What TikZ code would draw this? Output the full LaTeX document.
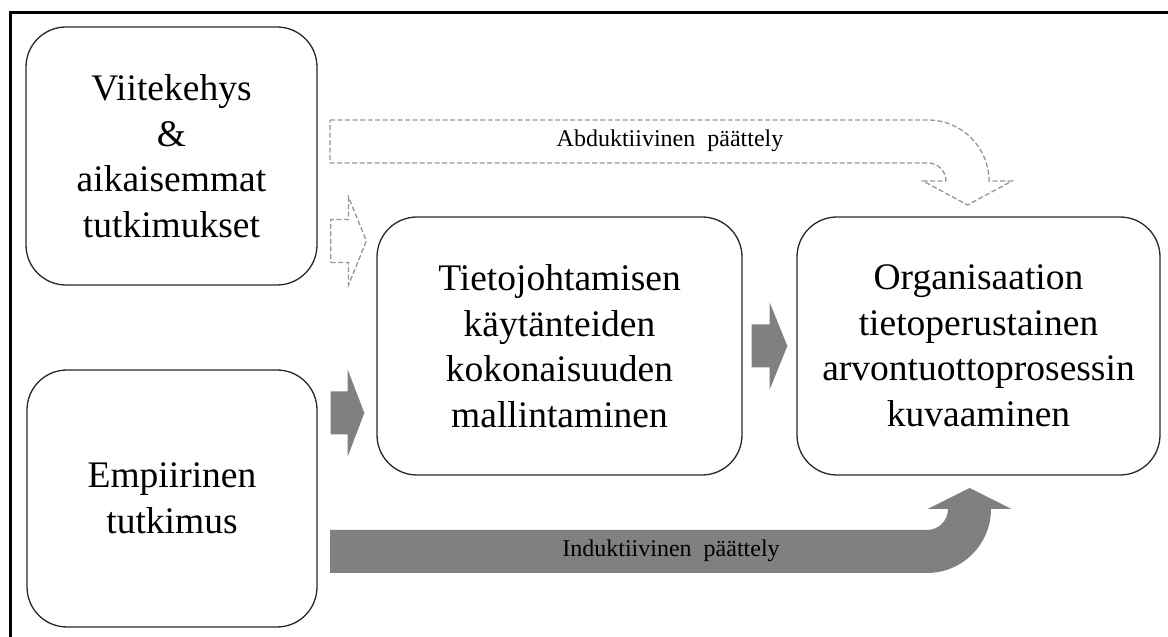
\documentclass[tikz,border=0pt]{standalone}
\usepackage{fontspec}
\setmainfont{Liberation Serif}
\usetikzlibrary{calc}
\definecolor{arrgray}{RGB}{128,128,128}
\definecolor{dashgray}{RGB}{150,150,150}
\definecolor{boxline}{RGB}{40,40,40}
\newcommand\blockarr[3]{%
  \path[#1] let \p1=#2, \p2=#3, \n1={(\x2-\x1)/2} in
    (\x1,\y1-21.5pt) -- (\x1+\n1,\y1-21.5pt) -- (\x1+\n1,\y1-44pt) -- (\x2,\y1)
    -- (\x1+\n1,\y1+44pt) -- (\x1+\n1,\y1+21.5pt) -- (\x1,\y1+21.5pt) -- cycle;}
\tikzset{
  mainbox/.style={draw=boxline, line width=1.3pt, rounded corners=40pt, fill=white,
    align=center, inner sep=0pt,
    font=\fontsize{37.5}{45.5}\selectfont},
  solidarrow/.style={fill=arrgray, draw=none},
  dasharrow/.style={draw=dashgray, line width=1.3pt, dash pattern=on 5pt off 2.5pt, fill=none},
  bandlabel/.style={font=\fontsize{24}{27}\selectfont, inner sep=0pt},
}
\begin{document}
\begin{tikzpicture}[x=1pt,y=1pt]
\useasboundingbox (0,0) rectangle (1168,637);
% frame
\draw[line width=3pt, black] (10,0) -- (10,624) -- (1168,624);
% boxes
\node[mainbox, minimum width=291pt, minimum height=258pt] (b1) at (171.5,481)
  {Viitekehys\\\&\\aikaisemmat\\tutkimukset};
\node[mainbox, minimum width=290pt, minimum height=257pt] (b2) at (172,138.5)
  {Empiirinen\\tutkimus};
\node[mainbox, minimum width=365pt, minimum height=258pt] (b3) at (559.5,291)
  {Tietojohtamisen\\käytänteiden\\kokonaisuuden\\mallintaminen};
\node[mainbox, minimum width=363pt, minimum height=258pt] (b4) at (978.5,291)
  {Organisaation\\tietoperustainen\\arvontuottoprosessin\\kuvaaminen};
% arrow end points
\coordinate (a13s) at ($(b1.east)+(13,-85)$);
\coordinate (a13t) at ($(b3.west)+(-10,105)$);
\coordinate (a23s) at ($(b2.east)+(13,85.5)$);
\coordinate (a23t) at ($(b3.west)+(-12,-67)$);
\coordinate (a34s) at ($(b3.east)+(9,0)$);
\coordinate (a34t) at ($(b4.west)+(-9,0)$);
% block arrows
\blockarr{dasharrow}{(a13s)}{(a13t)}
\blockarr{solidarrow}{(a23s)}{(a23t)}
\blockarr{solidarrow}{(a34s)}{(a34t)}
% abductive bent arrow (dashed)
\draw[dasharrow] (330,517) -- (928,517) arc[start angle=90, end angle=0, radius=61]
  -- (1012,456) -- (967.5,432) -- (923,456) -- (946,456)
  arc[start angle=0, end angle=90, radius=18] -- (330,474) -- cycle;
\node[bandlabel] (abd) at (670,496) {Abduktiivinen\hspace{0.25em} päättely};
% inductive bent arrow (solid)
\fill[arrgray] (330,64) -- (927,64) arc[start angle=-90, end angle=0, radius=64]
  -- (1011.5,128) -- (969.5,149) -- (927.5,128) -- (948,128)
  arc[start angle=0, end angle=-90, radius=21] -- (330,107) -- cycle;
\node[bandlabel] (ind) at (671,86) {Induktiivinen\hspace{0.25em} päättely};
\end{tikzpicture}
\end{document}
